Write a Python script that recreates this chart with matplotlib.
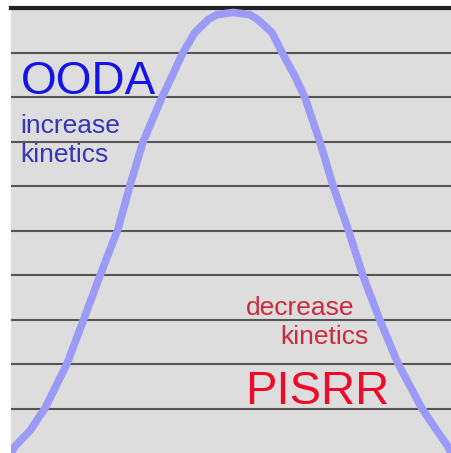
import matplotlib
matplotlib.use("Agg")
import matplotlib.pyplot as plt

# bell curve (x: 0..10 across panel, y: 0..10 line bands)
curve_x = [0.00, 0.09, 0.43, 0.77, 1.27, 1.64, 2.02, 2.43, 2.70, 3.00, 3.43,
           3.66, 3.91, 4.18, 4.48, 4.68, 5.05, 5.43, 5.61, 5.93, 6.16, 6.45,
           6.68, 7.02, 7.32, 7.66, 8.00, 8.39, 8.80, 9.34, 9.68, 9.93, 10.0]
curve_y = [0.00, 0.15, 0.50, 1.00, 2.00, 2.97, 3.98, 5.03, 6.00, 6.99, 7.99,
           8.47, 9.00, 9.45, 9.74, 9.85, 9.90, 9.85, 9.74, 9.45, 9.00, 8.47,
           7.99, 6.99, 6.00, 5.03, 3.98, 2.97, 2.00, 1.00, 0.50, 0.15, 0.00]
grid_levels = [1, 2, 3, 4, 5, 6, 7, 8, 9]

W, H = 451, 453
fig = plt.figure(figsize=(W / 100, H / 100), dpi=100)
fig.patch.set_facecolor("white")
ax = fig.add_axes([11 / W, 0, 440 / W, 445 / H])
ax.set_facecolor("#dddddd")
ax.set_xlim(0, 10)
ax.set_ylim(0, 10)
for s in ax.spines.values():
    s.set_visible(False)
ax.set_xticks([])
ax.set_yticks([])

# ruled lines
ax.hlines(grid_levels, 0, 10, colors="#555555", linewidth=1.5, zorder=1)
ax.axhline(10, color="#222222", linewidth=3, zorder=1, clip_on=False)

ax.plot(curve_x, curve_y, color="#9b9bf7", linewidth=5.5, solid_capstyle="butt",
        solid_joinstyle="round", zorder=2)

font = "Liberation Sans"


def label(px, py, txt, size, color):
    fig.text(px / W, 1 - py / H, txt, fontsize=size, color=color,
             family=font, va="baseline", ha="left", zorder=3)


label(21, 94, "OODA", 33, "#1414e6")
label(20, 133, "increase", 19, "#3535b8")
label(20, 162, "kinetics", 19, "#3535b8")
label(246, 315, "decrease", 19, "#cc2a3c")
label(280, 344, "kinetics", 19, "#cc2a3c")
label(245, 404, "PISRR", 34, "#ee0a28")

fig.savefig("out.png", dpi=100)
